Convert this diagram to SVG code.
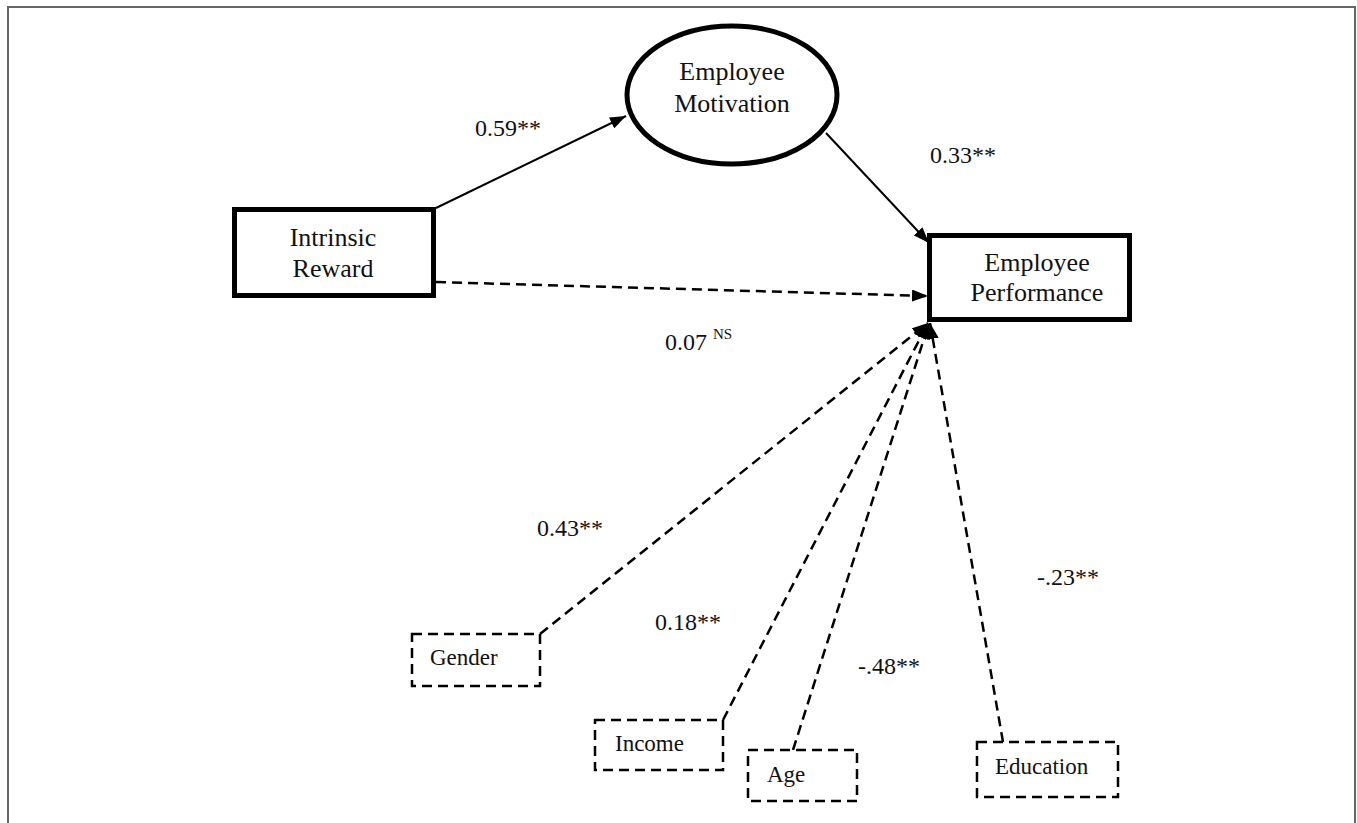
<svg xmlns="http://www.w3.org/2000/svg" width="1357" height="823" viewBox="0 0 1357 823">
<defs>
<marker id="arr" viewBox="0 0 16 12" refX="16" refY="6" markerWidth="16" markerHeight="12" markerUnits="userSpaceOnUse" orient="auto">
<path d="M0,0 L16,6 L0,12 Z" fill="#000"/>
</marker>
</defs>
<style>
text{font-family:"Liberation Serif","Times New Roman",Times,serif;fill:#111;}
.t{font-size:23px;}
.big{font-size:26px;}
.lbl{font-size:24px;}
.sup{font-size:15px;}
.solidbox{fill:#fff;stroke:#000;stroke-width:5;}
.dashbox{fill:#fff;stroke:#000;stroke-width:2.5;stroke-dasharray:10,6;}
.c{fill:none;stroke:#000;stroke-width:2;}
.cd{fill:none;stroke:#000;stroke-width:2.5;stroke-dasharray:10,6;}
</style>
<rect x="0" y="0" width="1357" height="823" fill="#fff"/>
<path d="M8,823 L8,7 L1355,7 L1355,823" fill="none" stroke="#666" stroke-width="2"/>
<g id="connectors">
<line class="c" x1="436" y1="208" x2="626" y2="116" marker-end="url(#arr)"/>
<line class="c" x1="826" y1="133" x2="929" y2="243" marker-end="url(#arr)"/>
<line class="cd" x1="436" y1="282" x2="928" y2="296" marker-end="url(#arr)"/>
<line class="cd" x1="540" y1="634" x2="928" y2="323" marker-end="url(#arr)"/>
<line class="cd" x1="723" y1="720" x2="928" y2="323" marker-end="url(#arr)"/>
<line class="cd" x1="793" y1="750" x2="929" y2="323" marker-end="url(#arr)"/>
<line class="cd" x1="1003" y1="742" x2="930" y2="323" marker-end="url(#arr)"/>
</g>
<g id="labels">
<text class="lbl" x="475" y="136">0.59**</text>
<text class="lbl" x="930" y="163">0.33**</text>
<text class="lbl" x="665" y="350">0.07 <tspan class="sup" dy="-11">NS</tspan></text>
<text class="lbl" x="537" y="536">0.43**</text>
<text class="lbl" x="655" y="630">0.18**</text>
<text class="lbl" x="858" y="674">-.48**</text>
<text class="lbl" x="1037" y="585">-.23**</text>
</g>
<g id="motivation">
<ellipse class="solidbox" cx="732" cy="95" rx="105" ry="69"/>
<text class="big" x="732" y="80" text-anchor="middle">Employee</text>
<text class="big" x="732" y="112" text-anchor="middle">Motivation</text>
</g>
<g id="intrinsic">
<rect class="solidbox" x="234.5" y="209.5" width="199" height="86"/>
<text class="big" x="333" y="246" text-anchor="middle">Intrinsic</text>
<text class="big" x="333" y="277" text-anchor="middle">Reward</text>
</g>
<g id="performance">
<rect class="solidbox" x="929.5" y="235.5" width="200" height="84"/>
<text class="big" x="1037" y="271" text-anchor="middle">Employee</text>
<text class="big" x="1037" y="301" text-anchor="middle">Performance</text>
</g>
<g id="gender">
<rect class="dashbox" x="412" y="634" width="128" height="52"/>
<text class="t" x="430" y="665">Gender</text>
</g>
<g id="income">
<rect class="dashbox" x="595" y="720" width="128" height="50"/>
<text class="t" x="615" y="751">Income</text>
</g>
<g id="age">
<rect class="dashbox" x="748" y="750" width="109" height="51"/>
<text class="t" x="767" y="782">Age</text>
</g>
<g id="education">
<rect class="dashbox" x="977" y="742" width="141" height="55"/>
<text class="t" x="995" y="774">Education</text>
</g>
</svg>
